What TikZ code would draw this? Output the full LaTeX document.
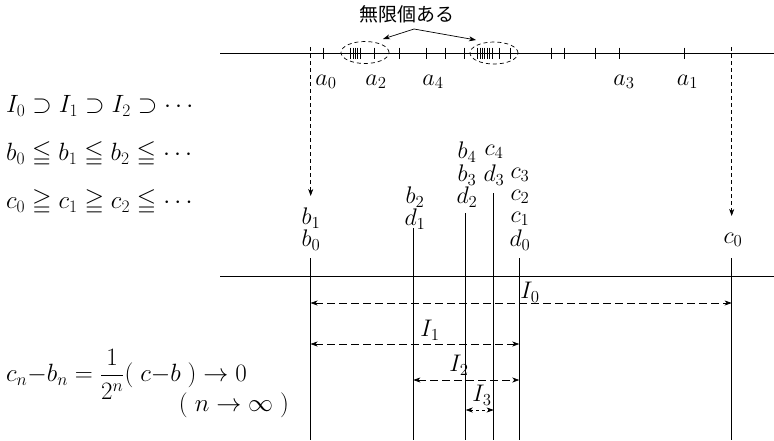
\RequirePackage{fix-cm}
\documentclass[tikz,border=0pt]{standalone}
\usepackage{amsmath,amssymb}
\usepackage{fontspec}
\newfontfamily\jpfont{Noto Sans CJK JP}
\usetikzlibrary{arrows.meta,shapes.geometric}
\begin{document}
\begin{tikzpicture}[x=1pt,y=-1pt,
  axisline/.style={line width=0.8pt},
  tickline/.style={line width=0.7pt},
  vline/.style={line width=0.8pt},
  ddash/.style={dash pattern=on 4pt off 3pt, line width=0.7pt},
  tipd/.style={-{Stealth[length=7pt,width=5pt,inset=2pt]}},
  iarrow/.style={dash pattern=on 8pt off 4pt, line width=0.7pt,
     {Stealth[length=7pt,width=5pt,inset=2pt]}-{Stealth[length=7pt,width=5pt,inset=2pt]}},
  lab/.style={font=\fontsize{24}{28}\selectfont, inner sep=0pt},
  big/.style={font=\fontsize{25}{30}\selectfont, inner sep=0pt},
  jp/.style={font=\jpfont\fontsize{19}{23}\selectfont, inner sep=0pt},
  ell/.style={draw, ellipse, dash pattern=on 4pt off 3pt, line width=0.7pt, minimum width=48pt, minimum height=22pt, inner sep=0pt}
]
\useasboundingbox (0,0) rectangle (774,440);

% ---------- top number line ----------
\coordinate (tl) at (220,53);
\coordinate (tr) at (774,53);
\draw[axisline] (tl) -- (tr);
\foreach \x in {323.5,350.7,353,355.3,357.7,360.3,374.5,399,426.5,445.5,464.5,
                477.5,480,482.4,484.8,487.2,489.6,492,499.7,510.2,551,564,595,619,684.5}
  \draw[tickline] (\x,47.5) -- (\x,58.5);
\node[ell] (e1) at (365,52.5) {};
\node[ell] (e2) at (494,53) {};
\node[jp] (inf) at (407,14) {無限個ある};
\coordinate (src) at (414,29);
\coordinate (t1) at (383,39);
\coordinate (t2) at (476,40);
\draw[line width=0.7pt,tipd] (src) -- (t1);
\draw[line width=0.7pt,tipd] (src) -- (t2);

\node[lab] (a0) at (326,82) {$a_0$};
\node[lab] (a2) at (376,82) {$a_2$};
\node[lab] (a4) at (433,82) {$a_4$};
\node[lab] (a3) at (624,82) {$a_3$};
\node[lab] (a1) at (687.5,82) {$a_1$};

% dashed projections
\coordinate (pl0) at (310.7,47);
\coordinate (pl1) at (310.7,196);
\coordinate (pr0) at (731.7,47);
\coordinate (pr1) at (731.7,216);
\draw[ddash,tipd] (pl0) -- (pl1);
\draw[ddash,tipd] (pr0) -- (pr1);

% ---------- left formulas ----------
\node[big,anchor=west] (f1) at (6,106) {$I_0 \supset I_1 \supset I_2 \supset \cdots$};
\node[big,anchor=west] (f2) at (6,154) {$b_0 \leqq b_1 \leqq b_2 \leqq \cdots$};
\node[big,anchor=west] (f3) at (6,202) {$c_0 \geqq c_1 \geqq c_2 \leqq \cdots$};

% ---------- labels above lower line ----------
\node[lab] (b1) at (311,218) {$b_1$};
\node[lab] (b0) at (311,240) {$b_0$};
\node[lab] (b2) at (415,197) {$b_2$};
\node[lab] (d1) at (415,219) {$d_1$};
\node[lab] (b4) at (467,152) {$b_4$};
\node[lab] (b3) at (467,175) {$b_3$};
\node[lab] (d2) at (467,197) {$d_2$};
\node[lab] (c4) at (494,152) {$c_4$};
\node[lab] (d3) at (494,175) {$d_3$};
\node[lab] (c3) at (520,175) {$c_3$};
\node[lab] (c2) at (520,197) {$c_2$};
\node[lab] (c1) at (520,219) {$c_1$};
\node[lab] (d0) at (520,240) {$d_0$};
\node[lab] (c0) at (733,240) {$c_0$};

% ---------- lower line and verticals ----------
\coordinate (bl) at (220,276);
\coordinate (br) at (774,276);
\draw[axisline] (bl) -- (br);
\coordinate (xb0) at (310.5,258);  \coordinate (yb0) at (310.5,440);
\coordinate (xd1) at (413.3,228);  \coordinate (yd1) at (413.3,440);
\coordinate (xd2) at (465.7,213);  \coordinate (yd2) at (465.7,440);
\coordinate (xd3) at (493.7,193);  \coordinate (yd3) at (493.7,440);
\coordinate (xd0) at (519.3,258);  \coordinate (yd0) at (519.3,440);
\coordinate (xc0) at (731.7,258);  \coordinate (yc0) at (731.7,440);
\draw[vline] (xb0) -- (yb0);
\draw[vline] (xd1) -- (yd1);
\draw[vline] (xd2) -- (yd2);
\draw[vline] (xd3) -- (yd3);
\draw[vline] (xd0) -- (yd0);
\draw[vline] (xc0) -- (yc0);

% interval arrows
\coordinate (i0a) at (310.5,303); \coordinate (i0b) at (731.7,303);
\coordinate (i1a) at (310.5,344); \coordinate (i1b) at (519.3,344);
\coordinate (i2a) at (413.3,380); \coordinate (i2b) at (519.3,380);
\coordinate (i3a) at (465.7,410); \coordinate (i3b) at (493.7,410);
\draw[iarrow] (i0a) -- (i0b);
\draw[iarrow] (i1a) -- (i1b);
\draw[iarrow] (i2a) -- (i2b);
\draw[iarrow,dash pattern=on 3pt off 3pt] (i3a) -- (i3b);
\node[lab] (I0) at (530,292) {$I_0$};
\node[lab] (I1) at (430,330) {$I_1$};
\node[lab] (I2) at (459,365) {$I_2$};
\node[lab] (I3) at (482,395) {$I_3$};

% ---------- bottom formula ----------
\node[big,anchor=west] (g1) at (6,374) {$c_n\mathord{-}b_n = \dfrac{1}{2^n}(\;c\mathord{-}b\;) \to 0$};
\node[big] (g2) at (234,405) {$(\;n \to \infty\;)$};
\end{tikzpicture}
\end{document}
